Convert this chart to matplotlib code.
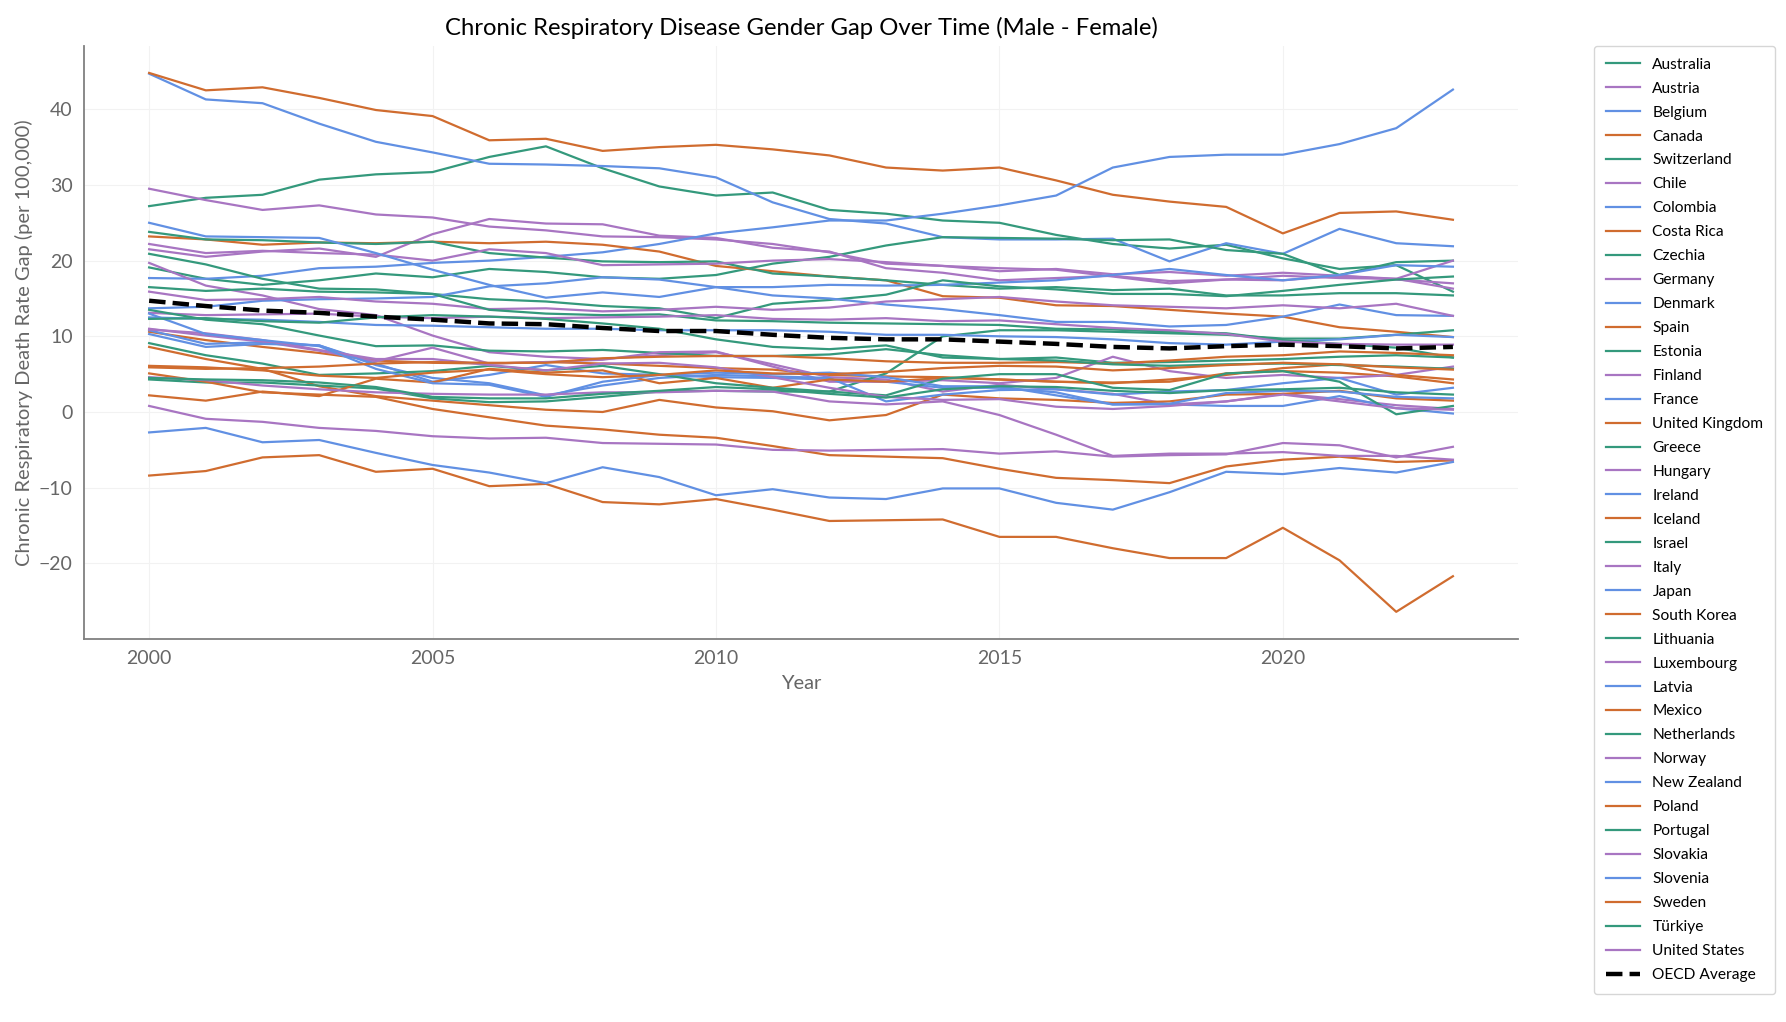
import matplotlib.pyplot as plt

plt.rcParams['font.family'] = ['Lato', 'DejaVu Sans']

years = list(range(2000, 2024))

countries = ["Australia", "Austria", "Belgium", "Canada", "Switzerland", "Chile",
             "Colombia", "Costa Rica", "Czechia", "Germany", "Denmark", "Spain",
             "Estonia", "Finland", "France", "United Kingdom", "Greece", "Hungary",
             "Ireland", "Iceland", "Israel", "Italy", "Japan", "South Korea",
             "Lithuania", "Luxembourg", "Latvia", "Mexico", "Netherlands", "Norway",
             "New Zealand", "Poland", "Portugal", "Slovakia", "Slovenia", "Sweden",
             "Türkiye", "United States"]

# gap values (male - female)
australia = [27.2, 28.3, 28.7, 30.7, 31.4, 31.7, 33.7, 35.1, 32.2, 29.8, 28.6, 29.0, 26.7, 26.2, 25.3, 25.0, 23.4, 22.2, 21.6, 22.1, 20.3, 18.9, 19.4, 15.9]
austria = [29.5, 28.0, 26.7, 27.3, 26.1, 25.7, 24.5, 24.0, 23.2, 23.1, 22.8, 22.2, 21.1, 19.6, 19.3, 19.0, 18.8, 17.9, 17.0, 17.5, 18.0, 17.7, 17.6, 16.3]
belgium = [44.7, 41.3, 40.8, 38.1, 35.7, 34.3, 32.8, 32.7, 32.5, 32.2, 31.0, 27.7, 25.5, 24.9, 23.1, 22.8, 22.8, 22.9, 19.9, 22.3, 20.9, 24.2, 22.3, 21.9]
canada = [44.8, 42.5, 42.9, 41.5, 39.9, 39.1, 35.9, 36.1, 34.5, 35.0, 35.3, 34.7, 33.9, 32.3, 31.9, 32.3, 30.6, 28.7, 27.8, 27.1, 23.6, 26.3, 26.5, 25.4]
switzerland = [19.1, 17.6, 16.8, 17.4, 18.3, 17.8, 18.9, 18.5, 17.8, 17.6, 18.1, 19.6, 20.5, 22.0, 23.1, 23.0, 22.9, 22.7, 22.8, 21.4, 20.9, 18.1, 19.8, 20.0]
chile = [21.5, 20.5, 21.2, 21.6, 20.5, 23.5, 25.5, 24.9, 24.8, 23.3, 23.0, 21.7, 21.2, 19.0, 18.4, 17.4, 17.7, 18.0, 17.3, 17.5, 17.4, 18.0, 17.6, 20.0]
colombia = [17.7, 17.6, 18.0, 19.0, 19.2, 19.7, 20.0, 20.5, 21.1, 22.2, 23.6, 24.4, 25.3, 25.3, 26.2, 27.3, 28.6, 32.3, 33.7, 34.0, 34.0, 35.4, 37.5, 42.6]
costa_rica = [23.2, 22.8, 22.1, 22.4, 22.3, 22.5, 22.3, 22.5, 22.1, 21.2, 19.3, 18.6, 17.9, 17.4, 15.3, 15.1, 14.1, 14.0, 13.5, 13.0, 12.6, 11.2, 10.6, 9.9]
czechia = [23.8, 22.8, 22.7, 22.4, 22.2, 22.5, 21.0, 20.4, 19.9, 19.8, 19.9, 18.3, 17.9, 17.4, 16.8, 16.3, 16.5, 16.1, 16.3, 15.4, 15.4, 15.7, 15.7, 15.4]
germany = [22.2, 21.0, 21.3, 21.0, 20.8, 20.0, 21.5, 21.0, 19.4, 19.5, 19.6, 20.0, 20.2, 19.8, 19.3, 18.6, 18.9, 18.2, 18.5, 18.0, 18.4, 18.0, 17.5, 17.0]
denmark = [25.0, 23.2, 23.1, 23.0, 21.0, 18.8, 16.8, 15.1, 15.8, 15.2, 16.5, 16.5, 16.8, 16.7, 16.8, 17.1, 17.4, 18.1, 18.9, 18.1, 17.4, 18.1, 19.4, 19.2]
spain = [10.6, 9.5, 8.6, 7.8, 6.8, 6.5, 6.4, 6.6, 6.4, 6.1, 5.8, 5.6, 4.9, 4.7, 4.6, 4.3, 4.0, 3.9, 4.0, 5.1, 5.4, 5.2, 4.7, 3.8]
estonia = [20.9, 19.5, 17.6, 16.3, 16.2, 15.6, 14.9, 14.6, 14.0, 13.7, 12.4, 14.3, 14.8, 15.5, 17.4, 16.6, 16.2, 15.6, 15.6, 15.3, 16.0, 16.8, 17.5, 17.9]
finland = [19.7, 16.7, 15.4, 13.6, 12.8, 10.1, 7.9, 7.3, 7.0, 7.5, 7.9, 6.3, 4.6, 4.3, 2.7, 3.6, 3.0, 2.4, 1.0, 1.4, 2.4, 1.7, 0.9, 0.4]
france = [13.7, 13.9, 14.7, 14.9, 15.0, 15.2, 16.6, 17.0, 17.8, 17.5, 16.5, 15.4, 15.0, 14.2, 13.6, 12.8, 11.9, 11.9, 11.3, 11.5, 12.6, 14.2, 12.8, 12.7]
uk = [8.6, 7.0, 5.7, 3.4, 2.1, 1.5, 0.9, 0.3, 0.0, 1.6, 0.6, 0.1, -1.1, -0.4, 2.3, 1.8, 1.6, 1.2, 1.4, 2.3, 2.4, 2.8, 1.8, 1.5]
greece = [4.3, 3.9, 3.9, 3.5, 3.1, 1.8, 1.3, 1.4, 2.0, 2.7, 2.8, 2.7, 2.7, 5.1, 10.0, 10.8, 10.8, 10.6, 10.4, 10.2, 9.7, 9.7, 10.2, 10.8]
hungary = [15.9, 14.8, 14.9, 15.2, 14.6, 14.3, 13.6, 13.7, 13.3, 13.5, 13.9, 13.5, 13.8, 14.6, 14.9, 15.2, 14.6, 14.1, 13.9, 13.7, 14.1, 13.7, 14.3, 12.7]
ireland = [12.5, 12.3, 12.2, 11.9, 11.5, 11.4, 11.2, 11.0, 11.0, 10.8, 10.8, 10.8, 10.6, 10.2, 10.2, 10.0, 9.9, 9.6, 9.1, 8.9, 9.3, 9.6, 10.2, 9.9]
iceland = [5.1, 4.0, 2.6, 2.3, 2.0, 0.4, -0.7, -1.8, -2.3, -3.0, -3.4, -4.5, -5.7, -5.9, -6.1, -7.5, -8.7, -9.0, -9.4, -7.2, -6.3, -5.9, -6.6, -6.4]
israel = [16.5, 16.0, 16.3, 15.9, 15.8, 15.6, 13.5, 13.0, 12.8, 12.9, 12.1, 12.0, 11.8, 11.7, 11.6, 11.5, 11.0, 10.9, 10.6, 10.4, 9.5, 9.0, 8.5, 7.2]
italy = [13.1, 12.8, 12.9, 13.0, 12.6, 12.4, 12.6, 12.4, 12.5, 12.6, 12.8, 12.3, 12.2, 12.4, 12.0, 12.1, 11.6, 11.1, 10.8, 10.3, 9.3, 9.0, 8.9, 8.9]
japan = [10.8, 9.0, 9.2, 8.8, 6.4, 4.0, 4.9, 6.2, 5.1, 4.9, 4.6, 4.5, 4.3, 4.0, 3.2, 3.2, 2.6, 1.0, 1.0, 0.8, 0.8, 2.1, 0.5, -0.2]
south_korea = [-8.4, -7.8, -6.0, -5.7, -7.9, -7.5, -9.8, -9.5, -11.9, -12.2, -11.5, -12.9, -14.4, -14.3, -14.2, -16.5, -16.5, -18.0, -19.3, -19.3, -15.3, -19.6, -26.4, -21.7]
lithuania = [13.5, 12.2, 11.6, 10.1, 8.7, 8.8, 8.1, 8.0, 8.2, 7.8, 7.4, 7.4, 7.6, 8.3, 7.5, 7.0, 7.2, 6.5, 6.6, 6.8, 7.0, 7.3, 7.5, 7.2]
luxembourg = [11.0, 10.1, 9.3, 8.1, 6.7, 8.5, 6.4, 6.6, 6.9, 7.9, 8.0, 6.0, 4.0, 4.0, 4.2, 3.8, 4.5, 7.3, 5.4, 4.5, 4.9, 4.5, 4.9, 6.0]
latvia = [10.3, 8.6, 9.0, 8.8, 6.2, 4.5, 3.8, 2.2, 3.5, 4.5, 4.9, 4.7, 4.5, 1.4, 2.3, 2.9, 3.0, 2.3, 2.7, 2.9, 3.8, 4.5, 2.3, 3.2]
mexico = [2.2, 1.5, 2.7, 2.1, 4.4, 3.9, 5.7, 5.2, 5.5, 3.8, 4.5, 3.2, 4.3, 4.0, 4.5, 4.3, 4.0, 3.8, 4.3, 4.9, 5.8, 6.3, 4.9, 4.3]
netherlands = [9.1, 7.5, 6.4, 4.9, 5.1, 5.4, 6.1, 5.5, 6.1, 5.0, 3.8, 3.2, 2.7, 2.2, 4.4, 5.0, 5.0, 3.2, 2.9, 5.1, 5.4, 4.0, -0.3, 0.8]
norway = [10.9, 10.4, 9.5, 8.2, 7.0, 7.0, 6.2, 5.5, 6.4, 6.5, 5.9, 4.6, 3.2, 2.0, 1.6, 1.7, 0.7, 0.4, 0.8, 1.4, 2.3, 1.4, 0.5, 0.3]
new_zealand = [13.0, 10.3, 9.5, 8.7, 5.7, 3.8, 3.6, 2.0, 4.0, 4.9, 5.2, 5.0, 5.2, 4.6, 3.4, 3.4, 2.2, 1.0, 1.1, 2.5, 2.8, 2.7, 2.0, 1.8]
poland = [5.9, 5.7, 5.8, 6.0, 6.4, 6.6, 6.5, 6.5, 7.1, 7.3, 7.4, 7.4, 7.1, 6.7, 6.5, 6.5, 6.6, 6.4, 6.8, 7.3, 7.5, 8.0, 7.8, 7.5]
portugal = [12.3, 12.4, 12.0, 11.8, 12.5, 12.8, 12.6, 12.3, 11.7, 11.0, 9.6, 8.6, 8.3, 8.8, 7.2, 7.0, 6.8, 6.3, 6.1, 6.3, 6.4, 6.2, 6.0, 5.7]
slovakia = [4.6, 4.2, 3.5, 3.0, 2.6, 2.4, 2.3, 2.3, 2.6, 2.6, 2.8, 2.7, 1.4, 1.0, 1.4, -0.4, -3.0, -5.8, -5.5, -5.5, -5.3, -5.8, -5.8, -6.3]
slovenia = [-2.7, -2.1, -4.0, -3.7, -5.4, -7.0, -8.0, -9.4, -7.3, -8.6, -11.0, -10.2, -11.3, -11.5, -10.1, -10.1, -12.0, -12.9, -10.6, -7.9, -8.2, -7.4, -8.0, -6.6]
sweden = [6.1, 5.9, 5.5, 4.8, 4.5, 5.2, 5.6, 5.0, 4.6, 4.9, 5.5, 5.1, 5.0, 5.3, 5.8, 6.1, 6.0, 5.5, 5.8, 6.2, 6.5, 6.3, 5.9, 5.6]
turkiye = [4.5, 4.3, 4.2, 3.9, 3.3, 2.0, 1.8, 1.8, 2.4, 2.8, 3.3, 3.0, 2.4, 1.9, 3.0, 3.4, 3.3, 2.8, 2.5, 2.9, 3.0, 3.2, 2.6, 2.3]
united_states = [0.8, -0.9, -1.3, -2.1, -2.5, -3.2, -3.5, -3.4, -4.1, -4.2, -4.3, -5.0, -5.1, -5.0, -4.9, -5.5, -5.2, -5.9, -5.7, -5.6, -4.1, -4.4, -6.0, -4.6]

oecd_avg = [14.7, 14.0, 13.4, 13.1, 12.6, 12.2, 11.7, 11.6, 11.1, 10.7, 10.7, 10.2, 9.8, 9.6, 9.6, 9.3, 9.0, 8.6, 8.4, 8.7, 8.9, 8.7, 8.4, 8.6]

series = [australia, austria, belgium, canada, switzerland, chile, colombia,
          costa_rica, czechia, germany, denmark, spain, estonia, finland, france,
          uk, greece, hungary, ireland, iceland, israel, italy, japan, south_korea,
          lithuania, luxembourg, latvia, mexico, netherlands, norway, new_zealand,
          poland, portugal, slovakia, slovenia, sweden, turkiye, united_states]

palette = ['#34997c', '#a875c2', '#6190e3', '#d06c2f']

fig = plt.figure(figsize=(17.86, 10.22), dpi=100)
ax = fig.add_axes([0.047, 0.375, 0.803, 0.580])

for i, (name, vals) in enumerate(zip(countries, series)):
    ax.plot(years, vals, color=palette[i % 4], linewidth=1.6, label=name)

ax.plot(years, oecd_avg, color='black', linestyle='--', linewidth=3.2, label='OECD Average')

ax.set_title('Chronic Respiratory Disease Gender Gap Over Time (Male - Female)',
             fontsize=17.2, pad=8)
ax.set_xlabel('Year', fontsize=14.5, color='#666666', labelpad=6)
ax.set_ylabel('Chronic Respiratory Death Rate Gap (per 100,000)', fontsize=14.5, color='#666666')
ax.set_xticks([2000, 2005, 2010, 2015, 2020])
ax.tick_params(length=0, labelsize=14, labelcolor='#666666', pad=8)
ax.grid(True, color='#f2f2f2', linewidth=0.8)
ax.set_axisbelow(True)
for side in ['top', 'right']:
    ax.spines[side].set_visible(False)
for side in ['left', 'bottom']:
    ax.spines[side].set_color('#808080')
    ax.spines[side].set_linewidth(1.3)

leg = ax.legend(loc='upper left', bbox_to_anchor=(1.053, 1.0), borderaxespad=0,
                fontsize=11.2, frameon=True, handlelength=2.2, labelspacing=0.64,
                borderpad=0.75)
leg.get_frame().set_edgecolor('#cccccc')

fig.savefig('out.png', dpi=100)
